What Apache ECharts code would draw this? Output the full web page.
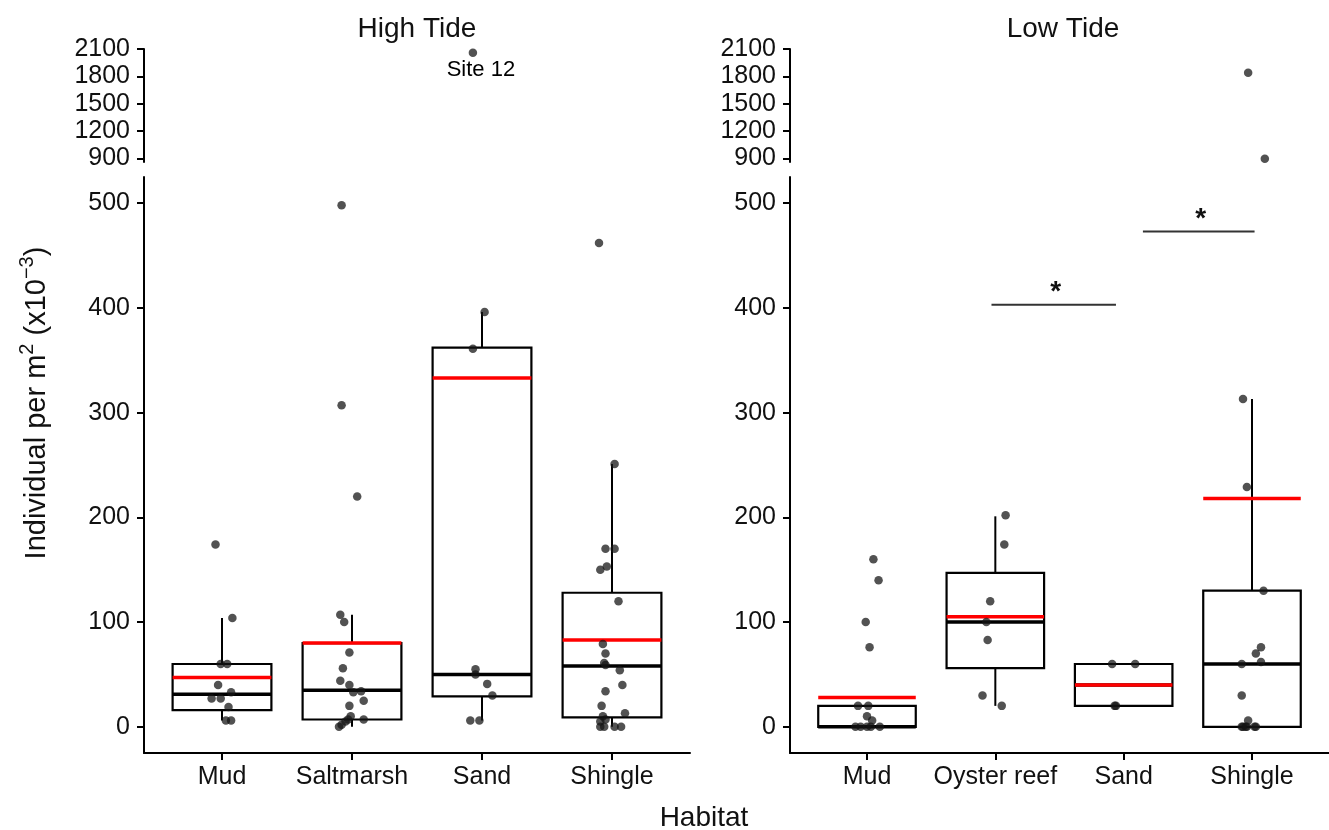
<!DOCTYPE html>
<html>
<head>
<meta charset="utf-8">
<script src="https://cdn.jsdelivr.net/npm/echarts@6/dist/echarts.min.js"></script>
<style>
  html, body { margin: 0; padding: 0; background: #fff; }
  #chart { width: 1329px; height: 830px; }
</style>
</head>
<body>
<div id="chart"></div>
<script>
// Habitat categories per tide panel
const highCategories = ['Mud', 'Saltmarsh', 'Sand', 'Shingle'];
const lowCategories = ['Mud', 'Oyster reef', 'Sand', 'Shingle'];

// Tick values for the broken y axis (lower and upper segments)
const lowerTicks = [0, 100, 200, 300, 400, 500];
const upperTicks = [900, 1200, 1500, 1800, 2100];

// Box summaries: [lower whisker, Q1, median, Q3, upper whisker]
const highBoxes = [
  [6, 16, 31, 60, 104],
  [0, 7, 35, 80, 107],
  [6, 29, 50, 362, 396],
  [0, 9, 58, 128, 251]
];
const lowBoxes = [
  [0, 0, 0, 20, 20],
  [20, 56, 100, 147, 201],
  [20, 20, 40, 60, 60],
  [0, 0, 60, 130, 313]
];

// Group means (red bars)
const highMeans = [47, 80, 333, 83];
const lowMeans = [28, 105, 40, 218];

// Individual sites: [habitat position with jitter, individuals per m2 (x10^-3)]
const highPoints = [
  [-0.05, 174], [0.08, 104], [-0.01, 60], [0.04, 60], [-0.03, 40], [0.07, 33],
  [-0.08, 27], [-0.01, 27], [0.05, 19], [0.03, 6], [0.07, 6],
  [0.92, 498], [0.92, 307], [1.04, 220], [0.91, 107], [0.94, 100], [0.98, 71],
  [0.93, 56], [0.91, 44], [0.98, 40], [1.01, 33], [1.07, 34], [1.09, 25],
  [0.98, 20], [0.99, 10], [0.97, 7], [1.09, 7], [0.95, 5], [0.92, 2], [0.90, 0],
  [1.93, 2058], [2.02, 396], [1.93, 361], [1.95, 55], [1.95, 50], [2.04, 41],
  [2.08, 30], [1.91, 6], [1.98, 6],
  [2.90, 462], [3.02, 251], [2.95, 170], [3.02, 170], [2.91, 150], [2.96, 153],
  [3.05, 120], [2.93, 79], [2.95, 70], [2.94, 61], [2.95, 59], [3.06, 54],
  [3.08, 40], [2.95, 34], [2.92, 20], [3.10, 13], [2.93, 10], [2.95, 7],
  [2.91, 5], [2.91, 0], [2.94, 0], [3.02, 0], [3.07, 0]
];
const lowPoints = [
  [0.05, 160], [0.09, 140], [-0.01, 100], [0.02, 76], [-0.07, 20], [0.01, 20],
  [0.00, 10], [0.04, 6], [-0.09, 0], [-0.05, 0], [0.00, 0], [0.03, 0], [0.10, 0],
  [1.08, 202], [1.07, 174], [0.96, 120], [0.93, 100], [0.94, 83], [0.90, 30], [1.05, 20],
  [1.91, 60], [2.09, 60], [1.93, 20], [1.94, 20],
  [2.97, 1840], [3.10, 895], [2.93, 313], [2.96, 229], [3.09, 130], [3.07, 76],
  [3.03, 70], [3.07, 62], [2.92, 60], [2.92, 30], [2.97, 6], [2.92, 0],
  [2.95, 0], [3.03, 0], [2.93, 0], [2.96, 0], [3.02, 0]
];

// Annotated site in the high tide panel: [position, value, label]
const highNotes = [[1.93, 2058, 'Site 12']];

// Significant pairwise differences at low tide: [from, to, bar height]
const lowSignificance = [[0.97, 1.94, 403], [2.15, 3.02, 473]];

const FONT = '"Liberation Sans", Arial, Helvetica, sans-serif';
const TEXT = '#111';
const BREAK = 860; // values above this sit in the upper axis segment

const chart = echarts.init(document.getElementById('chart'), null, { renderer: 'canvas' });

const panels = [
  { left: 144, cats: highCategories, boxes: highBoxes, means: highMeans, points: highPoints },
  { left: 790, cats: lowCategories, boxes: lowBoxes, means: lowMeans, points: lowPoints }
];

const grid = [];
const xAxis = [];
const yAxis = [];
const series = [];

panels.forEach((p, k) => {
  const upper = k * 2;
  const lower = k * 2 + 1;
  grid.push({ left: p.left, top: 49, width: 546, height: 113 });
  grid.push({ left: p.left, top: 177, width: 546, height: 576 });

  xAxis.push({
    type: 'value', gridIndex: upper, min: -0.6, max: 3.6, show: false
  });
  xAxis.push({
    type: 'value', gridIndex: lower, min: -0.6, max: 3.6,
    axisLine: { show: true, onZero: false, lineStyle: { color: '#000', width: 2 } },
    axisTick: { show: true, length: 7, lineStyle: { color: '#000', width: 2 }, customValues: [0, 1, 2, 3] },
    axisLabel: {
      customValues: [0, 1, 2, 3], margin: 12, fontSize: 25, color: TEXT, fontFamily: FONT,
      formatter: v => p.cats[Math.round(v)]
    },
    splitLine: { show: false }
  });

  const yCommon = (ticks) => ({
    axisLine: { show: true, onZero: false, lineStyle: { color: '#000', width: 2 } },
    axisTick: { show: true, length: 7, lineStyle: { color: '#000', width: 2 }, customValues: ticks },
    axisLabel: {
      customValues: ticks, margin: 14, fontSize: 25, color: TEXT, fontFamily: FONT,
      formatter: v => String(v)
    },
    splitLine: { show: false }
  });
  yAxis.push(Object.assign({ type: 'value', gridIndex: upper, min: BREAK, max: 2100 }, yCommon(upperTicks)));
  yAxis.push(Object.assign({ type: 'value', gridIndex: lower, min: -25, max: 525 }, yCommon(lowerTicks)));

  // Box, whiskers, median and mean
  series.push({
    type: 'custom',
    xAxisIndex: lower, yAxisIndex: lower,
    z: 2,
    data: p.boxes.map((b, i) => [i, b[0], b[1], b[2], b[3], b[4], p.means[i]]),
    renderItem: (params, api) => {
      const i = api.value(0);
      const half = 0.38;
      const pt = (x, y) => api.coord([x, y]);
      const lo = api.value(1), q1 = api.value(2), med = api.value(3),
            q3 = api.value(4), hi = api.value(5), mean = api.value(6);
      const tl = pt(i - half, q3), br = pt(i + half, q1);
      const line = (a, b, color, width) => ({
        type: 'line',
        shape: { x1: a[0], y1: a[1], x2: b[0], y2: b[1] },
        style: { stroke: color, lineWidth: width }
      });
      return {
        type: 'group',
        children: [
          line(pt(i, q3), pt(i, hi), '#000', 2),
          line(pt(i, q1), pt(i, lo), '#000', 2),
          {
            type: 'rect',
            shape: { x: tl[0], y: tl[1], width: br[0] - tl[0], height: br[1] - tl[1] },
            style: { fill: 'rgba(0,0,0,0)', stroke: '#000', lineWidth: 2.2 }
          },
          line(pt(i - half, med), pt(i + half, med), '#000', 3.5),
          line(pt(i - half, mean), pt(i + half, mean), '#ff0000', 3.5)
        ]
      };
    }
  });

  const pointStyle = { color: 'rgba(20,20,20,0.92)' };
  series.push({
    type: 'scatter', xAxisIndex: lower, yAxisIndex: lower, z: 5,
    symbolSize: 8.5, itemStyle: pointStyle,
    data: p.points.filter(d => d[1] < BREAK)
  });
  series.push({
    type: 'scatter', xAxisIndex: upper, yAxisIndex: upper, z: 5,
    symbolSize: 8.5, itemStyle: pointStyle,
    data: p.points.filter(d => d[1] >= BREAK)
  });
});

// "Site 12" note
series.push({
  type: 'scatter', xAxisIndex: 0, yAxisIndex: 0, z: 6,
  symbolSize: 1, itemStyle: { opacity: 0 },
  data: highNotes.map(n => ({ value: [n[0], n[1]], name: n[2] })),
  label: {
    show: true, position: 'bottom', distance: 6, offset: [8, 0],
    formatter: '{b}', fontSize: 22, color: '#000', opacity: 1, fontFamily: FONT
  }
});

// Significance bars with asterisks
series.push({
  type: 'custom', xAxisIndex: 3, yAxisIndex: 3, z: 4,
  data: lowSignificance,
  renderItem: (params, api) => {
    const a = api.coord([api.value(0), api.value(2)]);
    const b = api.coord([api.value(1), api.value(2)]);
    return {
      type: 'group',
      children: [
        { type: 'line', shape: { x1: a[0], y1: a[1], x2: b[0], y2: b[1] },
          style: { stroke: '#333', lineWidth: 2 } },
        { type: 'text', x: (a[0] + b[0]) / 2 + 2, y: a[1] - 12,
          style: { text: '*', fontSize: 28, fontWeight: 'bold', fill: TEXT,
                   fontFamily: FONT, align: 'center', verticalAlign: 'middle' } }
      ]
    };
  }
});

chart.setOption({
  animation: false,
  backgroundColor: '#fff',
  grid, xAxis, yAxis, series,
  graphic: [
    { type: 'text', x: 417, y: 29,
      style: { text: 'High Tide', fontSize: 28, fill: TEXT, fontFamily: FONT, align: 'center', verticalAlign: 'middle' } },
    { type: 'text', x: 1063, y: 29,
      style: { text: 'Low Tide', fontSize: 28, fill: TEXT, fontFamily: FONT, align: 'center', verticalAlign: 'middle' } },
    { type: 'text', x: 704, y: 818,
      style: { text: 'Habitat', fontSize: 28, fill: TEXT, fontFamily: FONT, align: 'center', verticalAlign: 'middle' } },
    { type: 'text', x: 37, y: 403, rotation: Math.PI / 2,
      style: {
        text: 'Individual per m{sup|2} (x10{sup|−3})',
        fontSize: 29, lineHeight: 39, fill: TEXT, fontFamily: FONT,
        align: 'center', verticalAlign: 'middle',
        rich: { sup: { fontSize: 20, lineHeight: 20, verticalAlign: 'top', fill: TEXT, fontFamily: FONT } }
      } }
  ]
});
</script>
</body>
</html>
